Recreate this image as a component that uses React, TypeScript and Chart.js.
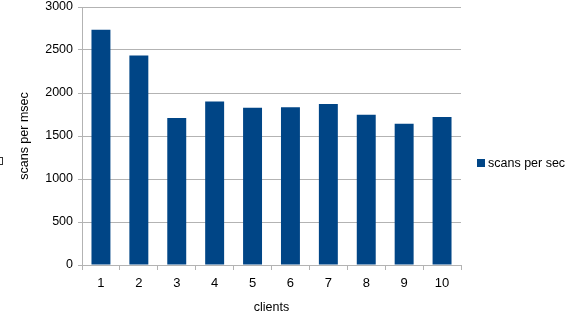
import React, { useEffect, useRef } from "react";
import { Chart, registerables } from "chart.js";

Chart.register(...registerables);

const categories = ["1", "2", "3", "4", "5", "6", "7", "8", "9", "10"];
const seriesName = "scans per sec";
const scansPerSec = [2735, 2435, 1710, 1902, 1828, 1835, 1872, 1748, 1642, 1722];
const yTicks = [0, 500, 1000, 1500, 2000, 2500, 3000];
const yTitle = "scans per msec";
const xTitle = "clients";

const BAR_COLOR = "#004586";
const GRID = "#b3b3b3";
const FONT = "'Liberation Sans', Arial, sans-serif";

export default function App() {
  const ref = useRef<HTMLCanvasElement>(null);
  useEffect(() => {
    document.body.style.margin = "0";
    const canvas = ref.current!;
    const legendPlugin = {
      id: "customLegend",
      afterDraw(chart: any) {
        const ctx = chart.ctx;
        ctx.save();
        ctx.fillStyle = BAR_COLOR;
        ctx.fillRect(477, 159, 8, 8);
        ctx.fillStyle = "#000";
        ctx.font = `12.5px ${FONT}`;
        ctx.textBaseline = "middle";
        ctx.textAlign = "left";
        ctx.fillText(seriesName, 488, 163.5);
        ctx.strokeStyle = "#333";
        ctx.lineWidth = 1;
        ctx.strokeRect(-3.5, 157.5, 6, 7);
        ctx.restore();
      },
    };
    const chart = new Chart(canvas, {
      type: "bar",
      data: {
        labels: categories,
        datasets: [
          {
            label: seriesName,
            data: scansPerSec,
            backgroundColor: BAR_COLOR,
            barPercentage: 0.5,
            categoryPercentage: 1,
          },
        ],
      },
      plugins: [legendPlugin],
      options: {
        animation: false,
        responsive: false,
        devicePixelRatio: 1,
        layout: { padding: { top: 7, right: 113, left: 0, bottom: 0 } },
        plugins: { legend: { display: false }, tooltip: { enabled: false } },
        scales: {
          x: {
            grid: {
              offset: true,
              drawOnChartArea: true,
              color: (c: any) => (c.index === categories.length ? GRID : "rgba(0,0,0,0)"),
              tickColor: GRID,
              tickLength: 5,
            },
            border: { color: GRID },
            ticks: { color: "#000", font: { family: FONT, size: 13 }, padding: 6, maxRotation: 0 },
            title: {
              display: true,
              text: xTitle,
              color: "#000",
              font: { family: FONT, size: 12.5 },
              padding: { top: 4, bottom: 4.5 },
            },
            afterFit: (s: any) => {
              s.height = 55;
              s.paddingLeft = 0;
              s.paddingRight = 0;
            },
          },
          y: {
            min: 0,
            max: 3000,
            afterBuildTicks: (s: any) => {
              s.ticks = yTicks.map((v) => ({ value: v }));
            },
            grid: { color: GRID, tickColor: GRID, tickLength: 4 },
            border: { color: GRID },
            ticks: {
              color: "#000",
              font: { family: FONT, size: 12.5 },
              padding: 5,
              callback: (v: any) => String(v),
            },
            title: {
              display: true,
              text: yTitle,
              color: "#000",
              font: { family: FONT, size: 12.5 },
              padding: { top: 17, bottom: 0 },
            },
            afterFit: (s: any) => {
              s.width = 82;
              s.paddingTop = 0;
              s.paddingBottom = 0;
            },
          },
        },
      },
    });
    return () => chart.destroy();
  }, []);
  return <canvas ref={ref} width={574} height={320} style={{ display: "block" }} />;
}
